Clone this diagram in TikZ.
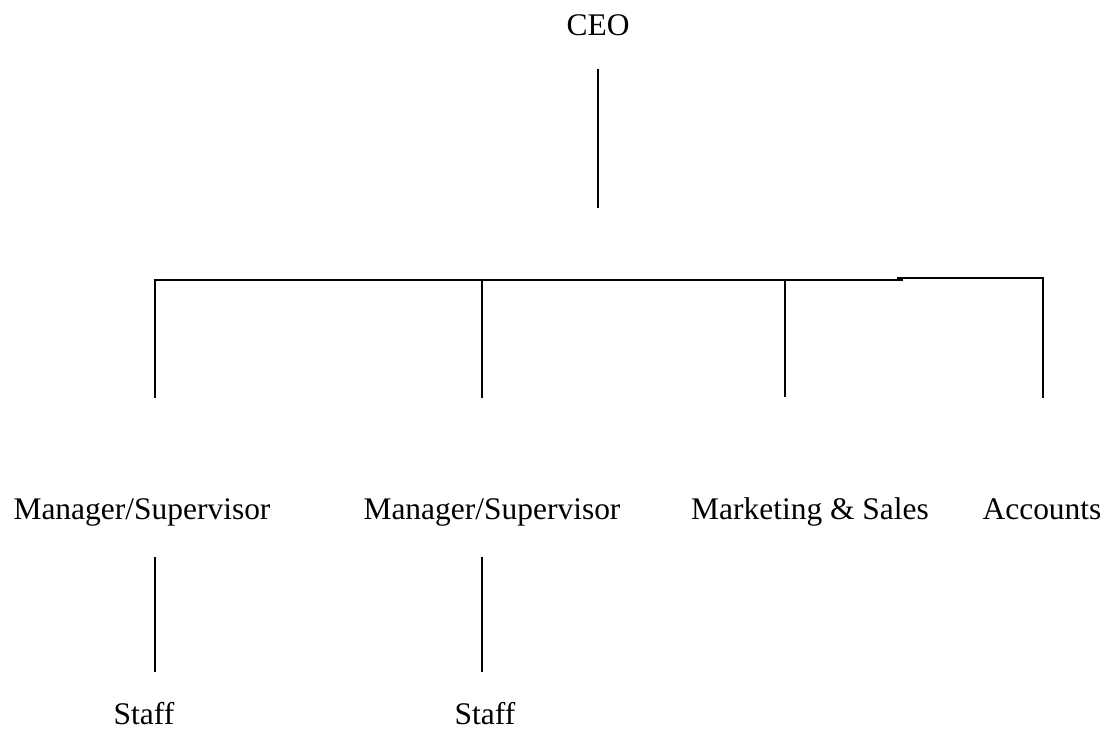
\documentclass[tikz,border=0pt]{standalone}
\usepackage{fontspec}
\setmainfont{Liberation Serif}
\usepackage{tikz}
\tikzstyle{orgLabel} = [inner sep=0, font=\fontsize{23.6}{28}\selectfont, anchor=base]
\tikzstyle{orgLine} = [line width=1.1pt]

\begin{document}
\begin{tikzpicture}[x=0.75pt,y=-0.75pt]
		\useasboundingbox (0,0) rectangle (1106,738);
		% nodes
		\node[orgLabel] (ceo) at (598,36) {CEO};								% Spitze
		\node[orgLabel] (mgr-a) at (142,519) {Manager/Supervisor};			% erste Abteilung
		\node[orgLabel] (mgr-b) at (492,519) {Manager/Supervisor};			% zweite Abteilung
		\node[orgLabel] (mkt) at (810,519) {Marketing \& Sales};
		\node[orgLabel] (acc) at (1042,519) {Accounts};
		\node[orgLabel] (staff-a) at (144,724) {Staff};
		\node[orgLabel] (staff-b) at (485,724) {Staff};
		\coordinate (ceo-end) at (598,208);									% Ende der Linie unter CEO
		\coordinate (bar-a) at (155,280);									% Querbalken
		\coordinate (bar-b) at (482,280);
		\coordinate (bar-c) at (785,280);
		\coordinate (bar-knick) at (903,280);
		\coordinate (bar-knick2) at (897,278);
		\coordinate (bar-d) at (1043,278);
		
		% lines
		\draw[orgLine, shorten <=24pt] (ceo.south) to (ceo-end);
		\draw[orgLine, shorten <=75pt] (bar-a |- mgr-a.north) -- (bar-a) -- (bar-knick);
		\draw[orgLine, shorten >=75pt] (bar-knick2) -- (bar-d) -- (bar-d |- acc.north);
		\draw[orgLine, shorten >=75pt] (bar-b) to (bar-b |- mgr-b.north);
		\draw[orgLine, shorten >=75pt] (bar-c) to (bar-c |- mkt.north);
		\draw[orgLine, shorten <=23.3pt, shorten >=22pt] (bar-a |- mgr-a.south) to (bar-a |- staff-a.north);
		\draw[orgLine, shorten <=23.3pt, shorten >=22pt] (bar-b |- mgr-b.south) to (bar-b |- staff-b.north);
\end{tikzpicture}
\end{document}
